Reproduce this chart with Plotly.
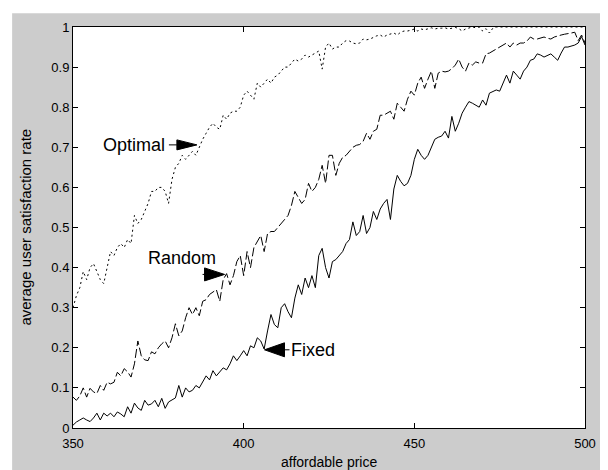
import plotly.graph_objects as go

price = list(range(350, 501))

optimal = [
    0.30, 0.33, 0.35, 0.39, 0.37, 0.40, 0.41, 0.39, 0.37, 0.36,
    0.40, 0.44, 0.43, 0.45, 0.46, 0.45, 0.47, 0.46, 0.53, 0.51,
    0.52, 0.54, 0.56, 0.59, 0.59, 0.60, 0.60, 0.59, 0.56, 0.62,
    0.65, 0.66, 0.68, 0.67, 0.68, 0.69, 0.68, 0.70, 0.72, 0.735,
    0.75, 0.76, 0.75, 0.745, 0.78, 0.77, 0.785, 0.79, 0.79, 0.80,
    0.83, 0.84, 0.83, 0.82, 0.86, 0.85, 0.86, 0.87, 0.86, 0.875,
    0.88, 0.89, 0.90, 0.90, 0.91, 0.92, 0.915, 0.92, 0.93, 0.925,
    0.93, 0.935, 0.94, 0.895, 0.95, 0.96, 0.945, 0.95, 0.95, 0.96,
    0.966, 0.965, 0.96, 0.958, 0.96, 0.97, 0.968, 0.97, 0.975, 0.978,
    0.98, 0.975, 0.98, 0.983, 0.985, 0.98, 0.987, 0.99, 0.99, 0.992,
    0.995, 0.99, 0.995, 0.993, 0.996, 0.998, 0.995, 0.997, 0.997, 0.998,
    0.995, 0.997, 0.999, 0.996, 0.99, 0.995, 0.998, 1.0, 0.998, 1.0,
    0.99, 0.996, 0.985, 0.997, 1.0, 1.0, 1.0, 1.0, 1.0, 1.0,
    1.0, 1.0, 1.0, 1.0, 1.0, 1.0, 1.0, 1.0, 1.0, 1.0,
    1.0, 1.0, 1.0, 1.0, 1.0, 1.0, 1.0, 1.0, 1.0, 1.0,
    1.0,
]

random_ = [
    0.077, 0.069, 0.08, 0.10, 0.077, 0.099, 0.09, 0.086, 0.106, 0.094,
    0.114, 0.11, 0.114, 0.139, 0.13, 0.148, 0.14, 0.127, 0.16, 0.217,
    0.18, 0.17, 0.168, 0.19, 0.185, 0.20, 0.21, 0.217, 0.20, 0.225,
    0.26, 0.23, 0.242, 0.275, 0.30, 0.283, 0.30, 0.28, 0.316, 0.32,
    0.333, 0.34, 0.345, 0.316, 0.37, 0.385, 0.357, 0.38, 0.415, 0.43,
    0.38, 0.44, 0.40, 0.45, 0.464, 0.48, 0.44, 0.485, 0.49, 0.49,
    0.50, 0.51, 0.52, 0.53, 0.555, 0.59, 0.575, 0.56, 0.57, 0.61,
    0.59, 0.60, 0.62, 0.655, 0.61, 0.68, 0.68, 0.63, 0.66, 0.675,
    0.68, 0.69, 0.70, 0.705, 0.707, 0.715, 0.735, 0.72, 0.74, 0.745,
    0.78, 0.78, 0.785, 0.79, 0.77, 0.81, 0.80, 0.79, 0.82, 0.84,
    0.83, 0.86, 0.875, 0.847, 0.87, 0.89, 0.847, 0.885, 0.89, 0.888,
    0.89, 0.896, 0.905, 0.92, 0.90, 0.89, 0.91, 0.905, 0.913, 0.91,
    0.91, 0.933, 0.935, 0.94, 0.945, 0.95, 0.955, 0.96, 0.95, 0.96,
    0.955, 0.96, 0.96, 0.965, 0.975, 0.97, 0.97, 0.972, 0.975, 0.972,
    0.97, 0.975, 0.978, 0.98, 0.982, 0.983, 0.985, 0.987, 0.966, 0.98,
    0.96,
]

fixed = [
    0.007, 0.015, 0.02, 0.025, 0.02, 0.016, 0.025, 0.037, 0.02, 0.037,
    0.03, 0.037, 0.028, 0.04, 0.035, 0.028, 0.053, 0.037, 0.062, 0.05,
    0.044, 0.069, 0.057, 0.06, 0.069, 0.053, 0.074, 0.049, 0.065, 0.069,
    0.075, 0.106, 0.077, 0.10, 0.09, 0.094, 0.106, 0.10, 0.115, 0.13,
    0.12, 0.143, 0.13, 0.14, 0.15, 0.145, 0.16, 0.18, 0.168, 0.18,
    0.193, 0.18, 0.205, 0.20, 0.225, 0.217, 0.197, 0.242, 0.283, 0.258,
    0.25, 0.30, 0.31, 0.29, 0.275, 0.324, 0.357, 0.333, 0.374, 0.35,
    0.38, 0.35, 0.43, 0.448, 0.40, 0.374, 0.415, 0.42, 0.43, 0.44,
    0.46, 0.47, 0.514, 0.48, 0.49, 0.53, 0.485, 0.50, 0.54, 0.52,
    0.546, 0.56, 0.57, 0.52, 0.596, 0.63, 0.615, 0.604, 0.61, 0.63,
    0.67, 0.695, 0.68, 0.67, 0.68, 0.70, 0.72, 0.725, 0.728, 0.74,
    0.723, 0.777, 0.74, 0.76, 0.785, 0.80, 0.814, 0.81, 0.805, 0.80,
    0.818, 0.805, 0.835, 0.84, 0.843, 0.84, 0.86, 0.88, 0.86, 0.89,
    0.88, 0.87, 0.89, 0.90, 0.917, 0.92, 0.933, 0.93, 0.925, 0.93,
    0.933, 0.925, 0.917, 0.935, 0.95, 0.95, 0.953, 0.955, 0.96, 0.976,
    0.955,
]

x_ticks = [350, 400, 450, 500]
y_ticks = [0, 0.1, 0.2, 0.3, 0.4, 0.5, 0.6, 0.7, 0.8, 0.9, 1]
y_tick_labels = ["0", "0.1", "0.2", "0.3", "0.4", "0.5", "0.6", "0.7", "0.8", "0.9", "1"]

FONT = "Liberation Sans, Arial, sans-serif"

fig = go.Figure()
fig.add_trace(go.Scatter(x=price, y=optimal, mode="lines", name="Optimal",
                         line=dict(color="black", width=1, dash="2px,3px")))
fig.add_trace(go.Scatter(x=price, y=random_, mode="lines", name="Random",
                         line=dict(color="black", width=1, dash="9px,3px")))
fig.add_trace(go.Scatter(x=price, y=fixed, mode="lines", name="Fixed",
                         line=dict(color="black", width=1)))

# annotation labels and arrows (tip in data coords, head drawn in pixels)
labels = [
    # text, text_x, text_y, xanchor, tip_x, tip_y, direction(+1 right, -1 left), half-height, tail
    ("Optimal", 377.6, 0.706, "right", 386.3, 0.706, 1, 5, 28),
    ("Random", 381.9, 0.425, "center", 394.4, 0.383, 1, 6.5, 22),
    ("Fixed", 413.3, 0.195, "left", 406.1, 0.195, -1, 7, 25),
]
for text, tx, ty, xa, px, py, d, hh, tail in labels:
    fig.add_annotation(x=tx, y=ty, xref="x", yref="y", text=text, showarrow=False,
                       xanchor=xa, yanchor="middle",
                       font=dict(family=FONT, size=18, color="black"))
    fig.add_shape(type="path", xref="x", yref="y", xsizemode="pixel", ysizemode="pixel",
                  xanchor=px, yanchor=py,
                  path=f"M0,0 L{-20*d},{hh} L{-20*d},{-hh} Z",
                  fillcolor="black", line=dict(color="black", width=1))
    fig.add_shape(type="line", xref="x", yref="y", xsizemode="pixel", ysizemode="pixel",
                  xanchor=px, yanchor=py, x0=-20 * d, x1=-tail * d, y0=0, y1=0,
                  line=dict(color="black", width=1))

# axis titles
fig.add_annotation(x=0.5, y=-0.086, xref="paper", yref="paper", text="affordable price",
                   showarrow=False, xanchor="center", yanchor="middle",
                   font=dict(family=FONT, size=14, color="black"))
fig.add_annotation(x=-0.0936, y=0.5, xref="paper", yref="paper",
                   text="average user satisfaction rate", textangle=-90,
                   showarrow=False, xanchor="center", yanchor="middle",
                   font=dict(family=FONT, size=15, color="black"))

# extra white strip at the left edge of the window
fig.add_shape(type="rect", xref="paper", yref="paper", x0=-0.14, x1=-0.1189, y0=-0.12, y1=1.06,
              fillcolor="white", line=dict(width=0), layer="below")
fig.add_shape(type="rect", xref="paper", yref="paper", x0=-0.14, x1=1.06, y0=1.0346, y1=1.06,
              fillcolor="white", line=dict(width=0), layer="below")

axis_common = dict(
    showline=True, linecolor="black", linewidth=1, mirror="ticks",
    ticks="inside", ticklen=5, tickwidth=1, tickcolor="black",
    showgrid=False, zeroline=False,
    tickfont=dict(family=FONT, size=13, color="black"),
)

fig.update_layout(
    width=600, height=462,
    margin=dict(l=65, r=22, t=15, b=42),
    paper_bgcolor="#cccccc",
    plot_bgcolor="white",
    showlegend=False,
    xaxis=dict(range=[350, 500], tickvals=x_ticks, ticktext=[str(v) for v in x_ticks],
               ticklabelstandoff=3, **axis_common),
    yaxis=dict(range=[0, 1], tickvals=y_ticks, ticktext=y_tick_labels,
               **axis_common),
)

fig.write_html("out.html")
